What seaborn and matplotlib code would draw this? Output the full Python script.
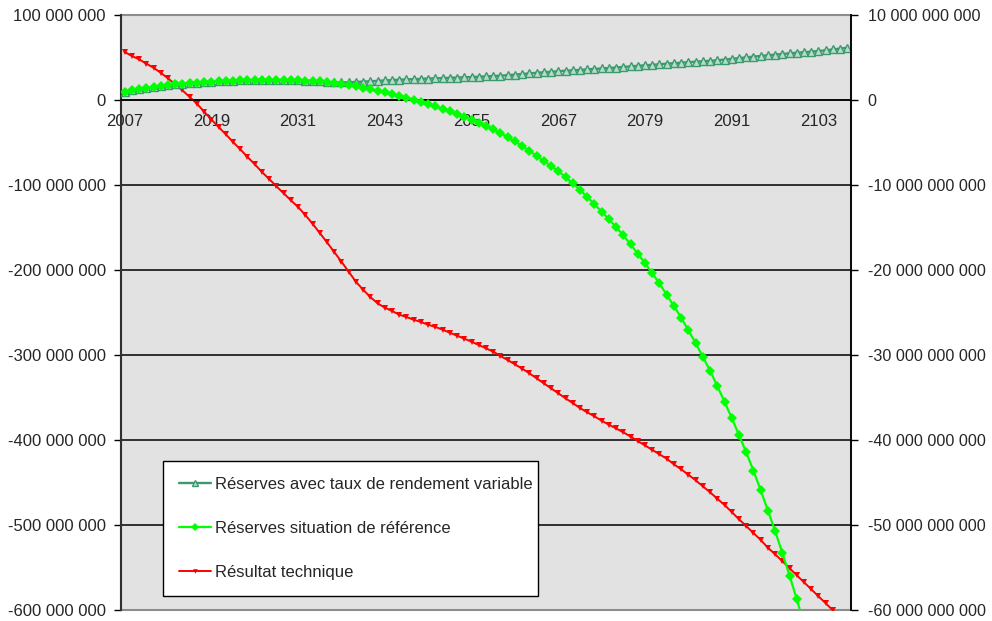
import matplotlib
matplotlib.use("Agg")
import matplotlib.pyplot as plt
from matplotlib.ticker import FuncFormatter, FixedLocator
import numpy as np
import pandas as pd
import seaborn as sns

years = list(range(2007, 2108))

# Résultat technique, millions (left axis)
resultat_technique_m = [
    56.5, 51.8, 47.9, 42.7, 38.0, 32.0, 25.5, 18.5, 11.4, 3.5,
    -4.3, -13.7, -23.0, -31.8, -40.4, -49.4, -58.0, -67.0, -75.6, -84.7,
    -93.0, -101.5, -109.8, -118.0, -125.9, -135.3, -145.5, -156.5, -167.4, -178.8,
    -190.2, -202.0, -213.8, -223.2, -231.8, -239.2, -244.3, -248.2, -252.6, -255.3,
    -258.5, -261.2, -264.4, -267.0, -270.2, -273.8, -277.3, -280.8, -284.4, -288.2,
    -292.2, -296.0, -301.2, -305.9, -311.0, -316.0, -321.5, -327.4, -333.3, -339.2,
    -345.0, -351.0, -356.5, -362.4, -367.4, -372.1, -377.3, -382.0, -386.4, -390.9,
    -396.0, -401.2, -406.4, -411.6, -416.8, -422.0, -428.6, -434.5, -440.8, -447.4,
    -454.5, -461.5, -469.0, -476.5, -484.7, -493.3, -501.2, -509.4, -517.6, -526.7,
    -534.5, -542.4, -550.9, -559.2, -567.4, -575.6, -583.9, -592.1, -600.4, -608.6,
    -616.8,
]

# Réserves situation de référence, billions (right axis)
reserves_reference_md = [
    0.98, 1.14, 1.26, 1.38, 1.53, 1.65, 1.76, 1.84, 1.92, 2.00,
    2.04, 2.12, 2.16, 2.20, 2.24, 2.27, 2.31, 2.31, 2.35, 2.35,
    2.35, 2.35, 2.34, 2.31, 2.30, 2.27, 2.24, 2.18, 2.10, 1.99,
    1.88, 1.77, 1.62, 1.44, 1.26, 1.08, 0.89, 0.70, 0.49, 0.27,
    0.04, -0.20, -0.47, -0.74, -1.02, -1.33, -1.65, -1.96, -2.31, -2.67,
    -3.03, -3.46, -3.90, -4.36, -4.88, -5.40, -5.97, -6.57, -7.18, -7.77,
    -8.38, -9.06, -9.79, -10.58, -11.40, -12.27, -13.14, -14.04, -14.94, -15.92,
    -16.98, -18.08, -19.20, -20.39, -21.58, -22.92, -24.24, -25.60, -27.10, -28.60,
    -30.20, -31.85, -33.65, -35.50, -37.40, -39.40, -41.45, -43.60, -45.90, -48.30,
    -50.70, -53.30, -55.96, -58.74, -61.70, np.nan, np.nan, np.nan, np.nan, np.nan,
    np.nan,
]

# Réserves avec taux de rendement variable, billions (right axis)
reserves_variable_md = [
    0.98, 1.14, 1.26, 1.38, 1.53, 1.65, 1.76, 1.84, 1.92, 2.00,
    2.04, 2.12, 2.16, 2.20, 2.24, 2.27, 2.31, 2.31, 2.35, 2.35,
    2.35, 2.35, 2.34, 2.31, 2.30, 2.27, 2.24, 2.18, 2.12, 2.07,
    2.06, 2.08, 2.12, 2.16, 2.20, 2.25, 2.30, 2.35, 2.39, 2.42,
    2.45, 2.49, 2.52, 2.55, 2.58, 2.61, 2.64, 2.67, 2.70, 2.74,
    2.78, 2.82, 2.86, 2.92, 2.99, 3.06, 3.13, 3.20, 3.26, 3.32,
    3.38, 3.44, 3.49, 3.54, 3.60, 3.65, 3.71, 3.76, 3.82, 3.89,
    3.95, 4.02, 4.08, 4.14, 4.20, 4.27, 4.33, 4.39, 4.45, 4.50,
    4.56, 4.61, 4.67, 4.75, 4.84, 4.93, 5.01, 5.10, 5.18, 5.26,
    5.34, 5.41, 5.49, 5.56, 5.62, 5.69, 5.76, 5.85, 5.95, 6.05,
    6.15,
]

label_variable = "Réserves avec taux de rendement variable"
label_reference = "Réserves situation de référence"
label_resultat = "Résultat technique"

df = pd.DataFrame({
    "annee": years,
    "resultat": np.array(resultat_technique_m) * 1e6,
    "reference": np.array(reserves_reference_md, dtype=float) * 1e9,
    "variable": np.array(reserves_variable_md) * 1e9,
})

sns.set_style("white")
plt.rcParams["font.family"] = ["Liberation Sans", "DejaVu Sans"]
FS = 12

fig = plt.figure(figsize=(9.92, 6.21), dpi=100)
ax = fig.add_axes([121 / 992, 1 - 610 / 621, 730 / 992, 595 / 621])
ax2 = ax.twinx()

ax.set_facecolor("#e2e2e2")
ax.patch.set_edgecolor("#8c8c8c")
ax.patch.set_linewidth(1.5)

sns.lineplot(data=df, x="annee", y="resultat", ax=ax, color="#ff0000",
             linewidth=1.4, marker="v", markersize=4.5, markeredgewidth=0,
             label=label_resultat, legend=False)

sns.lineplot(data=df, x="annee", y="variable", ax=ax2, color="#3a9a6e",
             linewidth=1.7, marker="^", markersize=5.5, markerfacecolor="#b9dcc8",
             markeredgecolor="#3a9a6e", markeredgewidth=1.0,
             label=label_variable, legend=False)
sns.lineplot(data=df, x="annee", y="reference", ax=ax2, color="#00ff00",
             linewidth=1.6, marker="D", markersize=5.5, markeredgewidth=0,
             label=label_reference, legend=False)

ax.set_xlim(2006.5, 2107.5)
ax.set_ylim(-6e8, 1e8)
ax2.set_ylim(-6e10, 1e10)


def spaced(v, pos=None):
    s = f"{abs(int(round(v))):,}".replace(",", " ")
    return ("-" if v < 0 else "") + s


ax.yaxis.set_major_locator(FixedLocator(np.arange(-6e8, 1.01e8, 1e8)))
ax.yaxis.set_major_formatter(FuncFormatter(spaced))
ax2.yaxis.set_major_locator(FixedLocator(np.arange(-6e10, 1.01e10, 1e10)))
ax2.yaxis.set_major_formatter(FuncFormatter(spaced))

# horizontal gridlines at each 100 000 000
for v in np.arange(-5e8, 0.5e8, 1e8):
    ax.axhline(v, color="black", linewidth=1.1, zorder=0.5)

# category axis crossing at zero
ax.spines["bottom"].set_position(("data", 0))
ax.spines["bottom"].set_color("black")
ax.spines["bottom"].set_linewidth(1.1)
ax.spines["top"].set_visible(False)
ax.spines["right"].set_visible(False)
ax.spines["left"].set_color("#303030")
ax.spines["left"].set_linewidth(1.5)
for s in ["top", "bottom", "left"]:
    ax2.spines[s].set_visible(False)
ax2.spines["right"].set_color("black")
ax2.spines["right"].set_linewidth(1.3)

label_years = years[::12]
ax.set_xticks(label_years)
ax.set_xticklabels([str(y) for y in label_years])
ax.set_xticks(np.arange(2006.5, 2108, 1), minor=True)
ax.tick_params(axis="x", which="major", length=0, pad=10, labelsize=FS)
ax.tick_params(axis="x", which="minor", length=4.5, width=1, direction="out",
               color="black")
ax.tick_params(axis="y", length=5, width=1, direction="out", color="black",
               pad=6, labelsize=FS, left=True)
ax2.tick_params(axis="y", length=5, width=1, direction="out", color="black",
                pad=7, labelsize=11.6, right=True)

ax.set_xlabel("")
ax.set_ylabel("")
ax2.set_ylabel("")

h1, l1 = ax.get_legend_handles_labels()
h2, l2 = ax2.get_legend_handles_labels()
handles = dict(zip(l1 + l2, h1 + h2))
order = [label_variable, label_reference, label_resultat]
leg = ax2.legend([handles[k] for k in order], order,
                 loc="upper left",
                 bbox_to_anchor=(163 / 992, 1 - 597 / 621, 375 / 992, 136 / 621),
                 mode="expand",
                 bbox_transform=fig.transFigure, frameon=True, fancybox=False,
                 edgecolor="black", facecolor="white", framealpha=1,
                 fontsize=FS, handlelength=1.9, handletextpad=0.25,
                 labelspacing=1.75, borderpad=0.95, borderaxespad=0,
                 numpoints=1, markerscale=0.75)
leg.get_frame().set_linewidth(1.0)

fig.savefig("out.png", dpi=100)
